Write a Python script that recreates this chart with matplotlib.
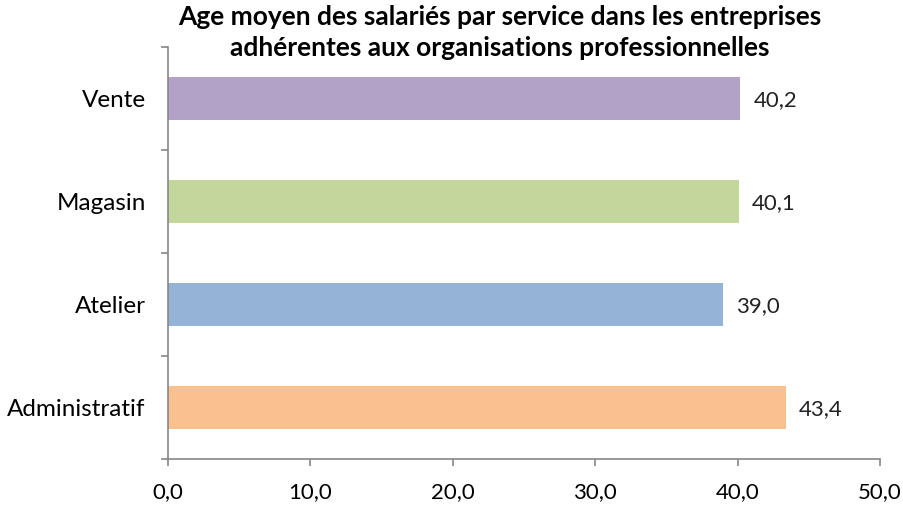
import matplotlib
matplotlib.use("Agg")
import matplotlib.pyplot as plt
from matplotlib.ticker import FuncFormatter, FixedLocator

services = ["Administratif", "Atelier", "Magasin", "Vente"]
ages = [43.4, 39.0, 40.1, 40.2]
colors = ["#FAC090", "#95B3D7", "#C3D69B", "#B3A2C7"]
title = ("Age moyen des salariés par service dans les entreprises\n"
         "adhérentes aux organisations professionnelles")

plt.rcParams["font.family"] = ["Lato", "DejaVu Sans"]
AXIS = "#868686"

fig = plt.figure(figsize=(9.04, 5.11), dpi=100)
ax = fig.add_axes([0.1858, 0.1018, 0.7877, 0.8062])

y = list(range(len(services)))
ax.barh(y, ages, height=0.41, color=colors)
for yi, v in zip(y, ages):
    ax.text(v + 0.9, yi - 0.02, f"{v:.1f}".replace(".", ","), va="center", ha="left",
            fontsize=16, color="#222222")

ax.set_xlim(0, 50)
ax.set_ylim(-0.5, len(services) - 0.5)
ax.set_xticks([0, 10, 20, 30, 40, 50])
ax.xaxis.set_major_formatter(FuncFormatter(lambda v, p: f"{v:.1f}".replace(".", ",")))
ax.set_yticks(y)
ax.set_yticklabels(services)
ax.yaxis.set_minor_locator(FixedLocator([i - 0.5 for i in range(len(services) + 1)]))
ax.tick_params(axis="y", which="major", length=0, pad=16, labelsize=17.5)
ax.tick_params(axis="y", which="minor", length=5, width=1.2, color=AXIS)
ax.tick_params(axis="x", length=5, width=1.2, color=AXIS, pad=12, labelsize=16)

for side in ("top", "right"):
    ax.spines[side].set_visible(False)
for side in ("left", "bottom"):
    ax.spines[side].set_color(AXIS)
    ax.spines[side].set_linewidth(1.2)

fig.suptitle(title, x=0.553, y=0.99, fontsize=19, fontweight="bold", linespacing=1.35)

fig.savefig("out.png", dpi=100)
